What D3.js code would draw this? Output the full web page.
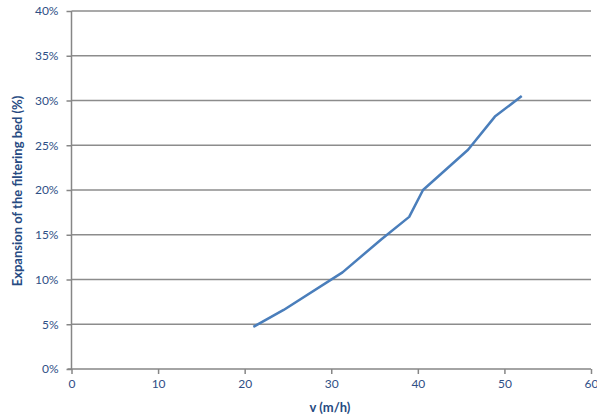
<!DOCTYPE html>
<html><head><meta charset="utf-8">
<script src="https://cdn.jsdelivr.net/npm/d3@7"></script>
<style>body{margin:0;background:#fff}svg{display:block}text{font-family:Lato,"Open Sans",sans-serif}</style>
</head><body>
<svg id="c" width="597" height="419"></svg>
<script>
const velocity = [21, 24.5, 31.3, 35.8, 39, 40.6, 45.8, 48.9, 52];
const expansion = [4.7, 6.6, 10.8, 14.5, 17.0, 20.0, 24.5, 28.2, 30.5];
const xTicks = [0, 10, 20, 30, 40, 50, 60];
const yTicks = [0, 5, 10, 15, 20, 25, 30, 35, 40];
const xTitle = "v (m/h)";
const yTitle = "Expansion of the filtering bed (%)";

const svg = d3.select("#c");
const m = {l:71.5, r:591, t:11, b:369};
const x = d3.scaleLinear().domain([0,60]).range([m.l, m.r]);
const y = d3.scaleLinear().domain([0,40]).range([m.b, m.t]);
const labelColor = "#2f4f86";

// gridlines
svg.append("g").selectAll("line").data(yTicks.filter(d=>d>0)).join("line")
  .attr("x1", m.l).attr("x2", m.r).attr("y1", d=>y(d)).attr("y2", d=>y(d))
  .attr("stroke", "#8c8c8c").attr("stroke-width", 1.5);

// y axis
const ya = svg.append("g").attr("transform", `translate(${m.l},0)`)
  .call(d3.axisLeft(y).tickValues(yTicks).tickFormat(d=>d+"%").tickSize(5).tickPadding(8));
ya.select(".domain").remove();
ya.selectAll(".tick line").attr("stroke", "#868686").attr("stroke-width", 1.5);
ya.selectAll(".tick text").attr("fill", labelColor).attr("font-size", 12).attr("font-family","Lato, 'Open Sans', sans-serif");
svg.append("line").attr("x1", m.l).attr("x2", m.l).attr("y1", m.t).attr("y2", m.b+0.75)
  .attr("stroke", "#868686").attr("stroke-width", 1.5);

// x axis
const xa = svg.append("g").attr("transform", `translate(0,${m.b})`)
  .call(d3.axisBottom(x).tickValues(xTicks).tickSize(5).tickPadding(5));
xa.select(".domain").remove();
xa.selectAll(".tick line").attr("stroke", "#868686").attr("stroke-width", 1.5);
xa.selectAll(".tick text").attr("fill", labelColor).attr("font-size", 12).attr("font-family","Lato, 'Open Sans', sans-serif");
svg.append("line").attr("x1", m.l-4).attr("x2", m.r).attr("y1", m.b).attr("y2", m.b)
  .attr("stroke", "#868686").attr("stroke-width", 1.5);

// line
const pts = velocity.map((v,i)=>[v, expansion[i]]);
svg.append("path").datum(pts)
  .attr("d", d3.line().x(d=>x(d[0])).y(d=>y(d[1])))
  .attr("fill","none").attr("stroke","#4a7ebb").attr("stroke-width",2.5).attr("stroke-linejoin","round");

// titles
svg.append("text").attr("x", 330).attr("y", 412).attr("text-anchor","middle")
  .attr("font-size", 13).attr("font-weight","bold").attr("fill","#264a82").text(xTitle);
svg.append("text").attr("transform", `translate(22,191) rotate(-90)`).attr("text-anchor","middle")
  .attr("font-size", 13).attr("font-weight","bold").attr("fill","#264a82").text(yTitle);
</script>
</body></html>
